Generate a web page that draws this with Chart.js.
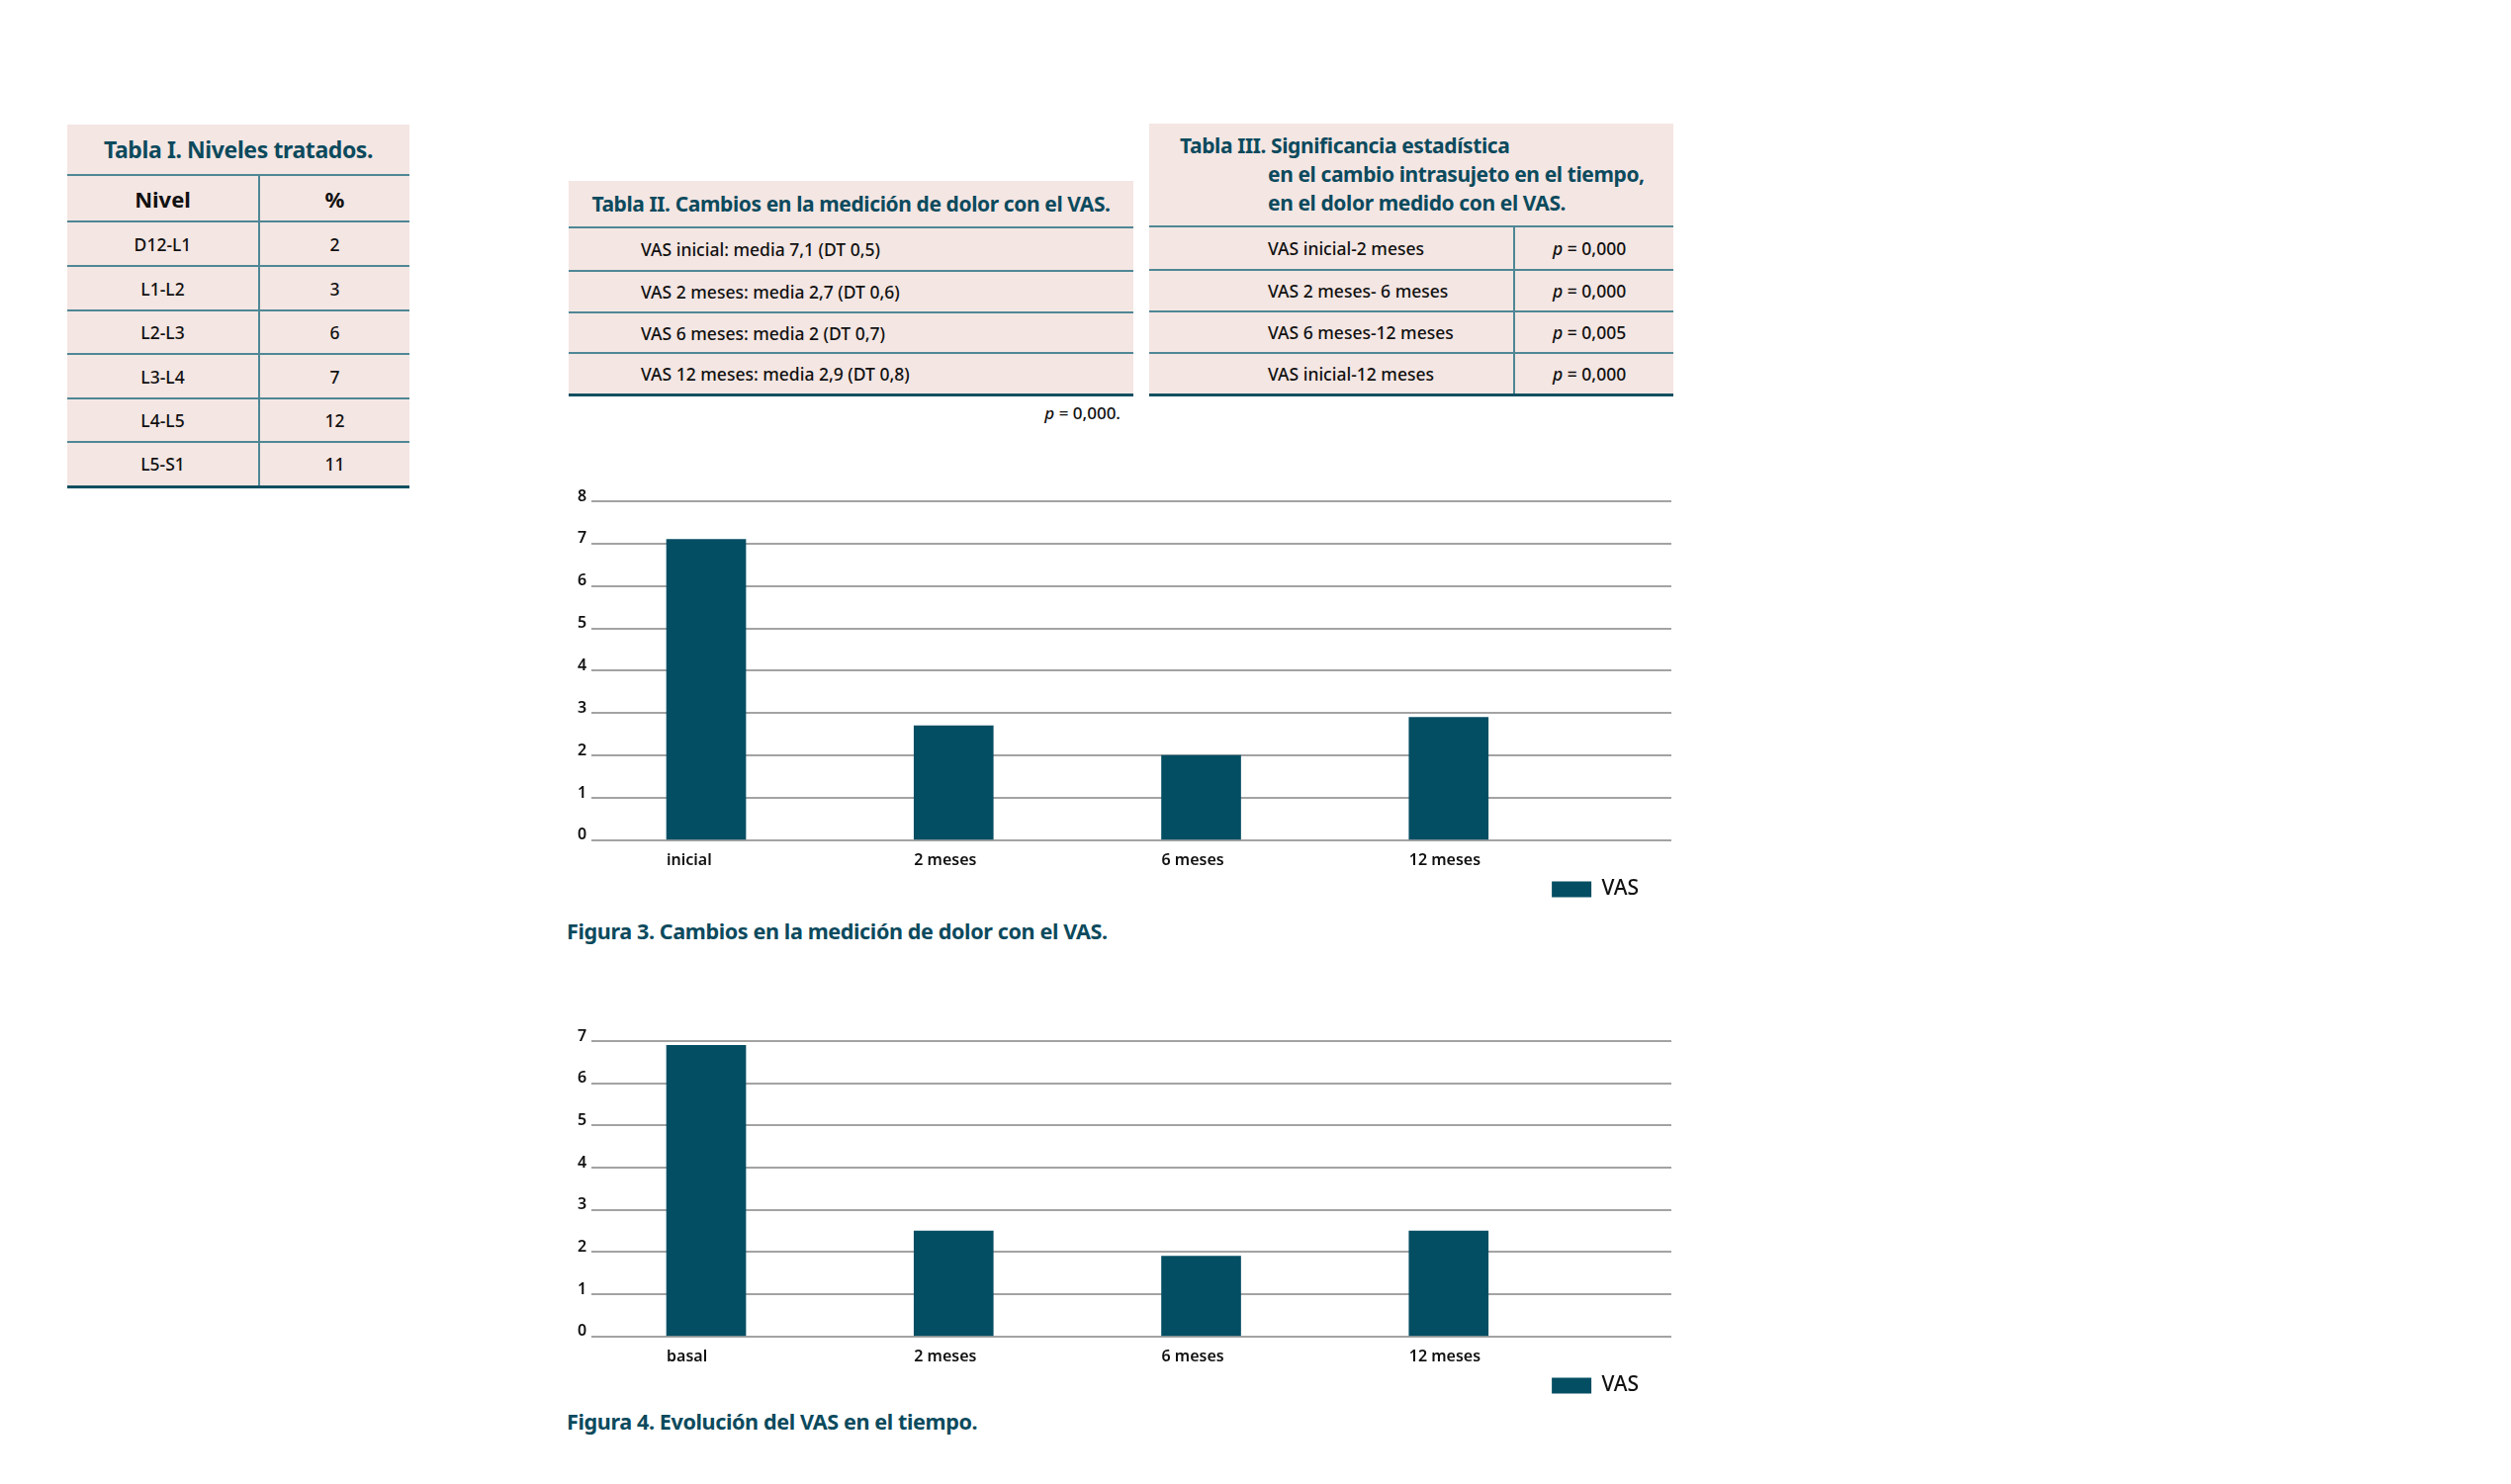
<!DOCTYPE html>
<html>
<head>
<meta charset="utf-8">
<script src="https://cdn.jsdelivr.net/npm/chart.js@4"></script>
<style>
  body { margin: 0; background: #fff; font-family: 'Noto Sans', sans-serif; }
  .box { position: absolute; }
  table { border-collapse: collapse; background: #f4e6e3; width: 100%; }
  td { padding: 0; color: #111; }
  .ttl { color: #0c4a5d; font-weight: 700; font-size: 21px; letter-spacing: -0.4px; }
  .row td { border-top: 2px solid #4f8795; font-size: 17.5px; font-weight: 500; }
  .last td { border-bottom: 3px solid #134f61; }
  .div { border-left: 2px solid #4f8795; }
  .cap { position: absolute; color: #0c4a5d; font-weight: 700; font-size: 21.6px; letter-spacing: -0.4px; white-space: nowrap; }
  .chart { position: absolute; }
</style>
</head>
<body>

<!-- Tabla I -->
<div class="box" style="left:68px; top:126px; width:346px;">
  <table>
    <tr style="height:51px"><td colspan="2" class="ttl" style="text-align:center; font-size:23px">Tabla I. Niveles tratados.</td></tr>
    <tr class="row" style="height:47px"><td style="text-align:center; font-size:22px; font-weight:700; width:193px">Nivel</td><td class="div" style="text-align:center; font-size:22px; font-weight:700">%</td></tr>
    <tr class="row" style="height:45px"><td style="text-align:center">D12-L1</td><td class="div" style="text-align:center">2</td></tr>
    <tr class="row" style="height:45px"><td style="text-align:center">L1-L2</td><td class="div" style="text-align:center">3</td></tr>
    <tr class="row" style="height:44px"><td style="text-align:center">L2-L3</td><td class="div" style="text-align:center">6</td></tr>
    <tr class="row" style="height:45px"><td style="text-align:center">L3-L4</td><td class="div" style="text-align:center">7</td></tr>
    <tr class="row" style="height:44px"><td style="text-align:center">L4-L5</td><td class="div" style="text-align:center">12</td></tr>
    <tr class="row last" style="height:45px"><td style="text-align:center">L5-S1</td><td class="div" style="text-align:center">11</td></tr>
  </table>
</div>

<!-- Tabla II -->
<div class="box" style="left:575px; top:183px; width:571px;">
  <table>
    <tr style="height:47px"><td class="ttl" style="text-align:center">Tabla II. Cambios en la medición de dolor con el VAS.</td></tr>
    <tr class="row" style="height:44px"><td style="padding-left:73px">VAS inicial: media 7,1 (DT 0,5)</td></tr>
    <tr class="row" style="height:42px"><td style="padding-left:73px">VAS 2 meses: media 2,7 (DT 0,6)</td></tr>
    <tr class="row" style="height:41px"><td style="padding-left:73px">VAS 6 meses: media 2 (DT 0,7)</td></tr>
    <tr class="row last" style="height:42px"><td style="padding-left:73px">VAS 12 meses: media 2,9 (DT 0,8)</td></tr>
  </table>
  <div style="text-align:right; padding-right:13px; margin-top:5px; font-size:17px; font-weight:500; color:#111"><i>p</i> = 0,000.</div>
</div>

<!-- Tabla III -->
<div class="box" style="left:1162px; top:125px; width:530px;">
  <table>
    <tr style="height:104px"><td colspan="2" class="ttl" style="padding-left:31px; line-height:29px">Tabla III. Significancia estadística<br><span style="padding-left:89px">en el cambio intrasujeto en el tiempo,</span><br><span style="padding-left:89px">en el dolor medido con el VAS.</span></td></tr>
    <tr class="row" style="height:44px"><td style="padding-left:120px; width:248px">VAS inicial-2 meses</td><td class="div" style="padding-left:38px"><i>p</i> = 0,000</td></tr>
    <tr class="row" style="height:42px"><td style="padding-left:120px">VAS 2 meses- 6 meses</td><td class="div" style="padding-left:38px"><i>p</i> = 0,000</td></tr>
    <tr class="row" style="height:42px"><td style="padding-left:120px">VAS 6 meses-12 meses</td><td class="div" style="padding-left:38px"><i>p</i> = 0,005</td></tr>
    <tr class="row last" style="height:42px"><td style="padding-left:120px">VAS inicial-12 meses</td><td class="div" style="padding-left:38px"><i>p</i> = 0,000</td></tr>
  </table>
</div>

<div class="chart" style="left:579px; top:491px; width:1121px; height:429px;"><canvas id="fig3"></canvas></div>
<div class="cap" style="left:573px; top:927px;">Figura 3. Cambios en la medición de dolor con el VAS.</div>

<div class="chart" style="left:579px; top:1037px; width:1121px; height:385px;"><canvas id="fig4"></canvas></div>
<div class="cap" style="left:573px; top:1423px;">Figura 4. Evolución del VAS en el tiempo.</div>

<script>
var fig3Labels = ['inicial', '2 meses', '6 meses', '12 meses'];
var fig3Values = [7.1, 2.7, 2, 2.9];
var fig3Max = 8;

var fig4Labels = ['basal', '2 meses', '6 meses', '12 meses'];
var fig4Values = [6.9, 2.5, 1.9, 2.5];
var fig4Max = 7;

var barColor = '#044e63';

Chart.defaults.font.family = "'Noto Sans', sans-serif";
Chart.defaults.color = '#111';

// the legend sits a bit left of the plot's right edge
var legendShift = {
    id: 'legendShift',
    afterLayout: function (chart) {
        chart.legend.left -= 27;
        chart.legend.right -= 27;
    }
};

function makeChart(id, labels, values, yMax) {
    var ctx = document.getElementById(id).getContext('2d');
    return new Chart(ctx, {
        type: 'bar',
        data: {
            datasets: [{
                label: 'VAS',
                data: values.map(function (v, i) { return { x: i, y: v }; }),
                backgroundColor: barColor,
                barThickness: 80
            }]
        },
        options: {
            responsive: true,
            maintainAspectRatio: false,
            animation: false,
            layout: { padding: { top: 16, right: 10, bottom: 0 } },
            scales: {
                x: {
                    type: 'linear',
                    offset: false,
                    min: -0.463,
                    max: 3.9,
                    afterBuildTicks: function (s) { s.ticks = labels.map(function (l, i) { return { value: i }; }); },
                    grid: { display: false },
                    border: { display: false },
                    ticks: {
                        callback: function (v) { return labels[v]; },
                        align: 'start',
                        labelOffset: -40,
                        padding: 3,
                        font: { size: 16, weight: '600' },
                        color: '#111'
                    }
                },
                y: {
                    min: 0,
                    max: yMax,
                    grid: { color: '#a3a3a3', lineWidth: 2, drawTicks: false },
                    border: { display: false },
                    ticks: {
                        stepSize: 1,
                        padding: 5,
                        labelOffset: -5,
                        font: { size: 16, weight: '600' },
                        color: '#111'
                    }
                }
            },
            plugins: {
                legend: {
                    position: 'bottom',
                    align: 'end',
                    labels: {
                        boxWidth: 40,
                        boxHeight: 16,
                        padding: 6,
                        font: { size: 21, weight: '500' },
                        color: '#111'
                    }
                },
                tooltip: { enabled: false }
            }
        },
        plugins: [legendShift]
    });
}

makeChart('fig3', fig3Labels, fig3Values, fig3Max);
makeChart('fig4', fig4Labels, fig4Values, fig4Max);
</script>
</body>
</html>
